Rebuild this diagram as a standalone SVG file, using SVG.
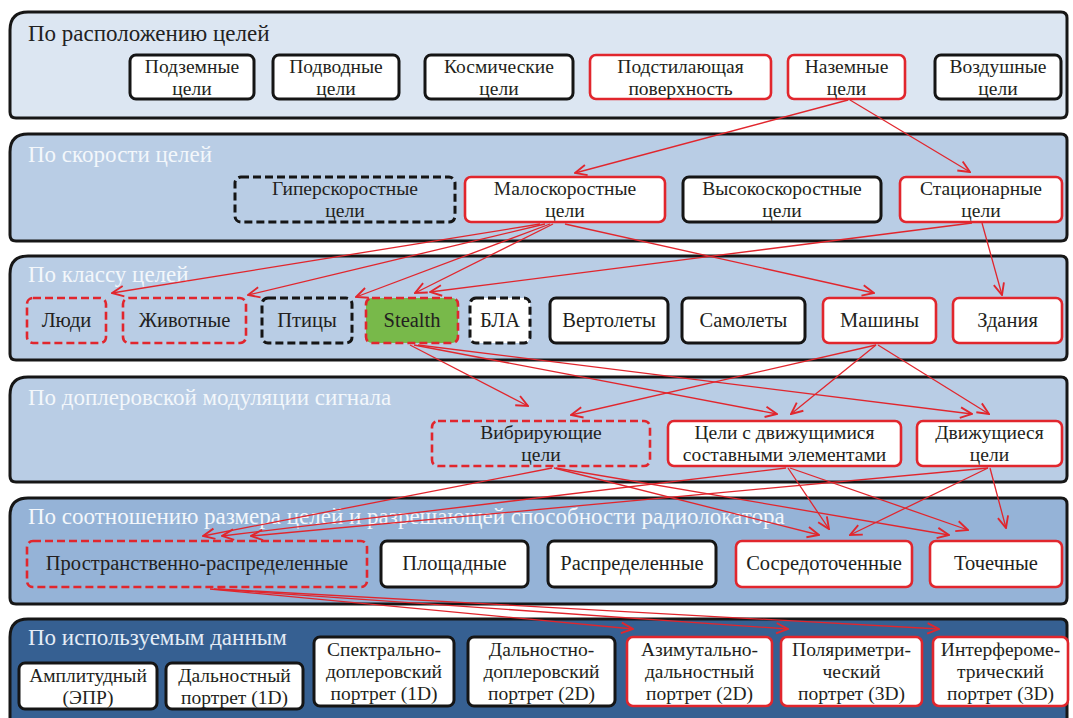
<svg xmlns="http://www.w3.org/2000/svg" width="1073" height="718" viewBox="0 0 1073 718">
<defs>
<style>
.pn{stroke:#161616;stroke-width:3}
.p1{fill:#dce6f2}.p2{fill:#b9cde5}.p5{fill:#95b3d7}.p6{fill:#366092}
.ttl{font-family:"Liberation Serif","Times New Roman",serif;font-size:23px}
.tk{fill:#222}.tw{fill:#f3f7fb}.tw6{fill:#e4ecf6}
.n{fill:#fff;stroke:#151515;stroke-width:3}
.r{stroke:#e1262d;stroke-width:2.6}
.d{stroke-dasharray:8 4}
.o{fill:none}
.g{fill:#78b94a}
.t{font-family:"Liberation Serif","Times New Roman",serif;font-size:20.5px;fill:#231f20;text-anchor:middle}
.m{font-size:19.5px}
.c line{stroke:#e1262d;stroke-width:1.3;marker-end:url(#ah)}
</style>
<marker id="ah" markerUnits="userSpaceOnUse" markerWidth="14" markerHeight="14" viewBox="0 0 12 12" refX="11" refY="6" orient="auto">
<path d="M1,1.5 L11,6 L1,10.5" fill="none" stroke="#e1262d" stroke-width="1.6"/>
</marker>
</defs>

<g id="panel1">
<path class="pn p1" d="M28,12 H1061 Q1067,12 1067,18 V112 Q1067,118 1061,118 H16 Q10,118 10,112 V30 Q10,12 28,12 Z"/>
<text class="ttl tk" x="28" y="41">По расположению целей</text>
</g>
<g id="panel2">
<path class="pn p2" d="M28,134 H1061 Q1067,134 1067,140 V235 Q1067,241 1061,241 H16 Q10,241 10,235 V152 Q10,134 28,134 Z"/>
<text class="ttl tw" x="28" y="162">По скорости целей</text>
</g>
<g id="panel3">
<path class="pn p2" d="M28,256 H1061 Q1067,256 1067,262 V354 Q1067,360 1061,360 H16 Q10,360 10,354 V274 Q10,256 28,256 Z"/>
<text class="ttl tw" x="28" y="282">По классу целей</text>
</g>
<g id="panel4">
<path class="pn p2" d="M28,377 H1061 Q1067,377 1067,383 V476 Q1067,482 1061,482 H16 Q10,482 10,476 V395 Q10,377 28,377 Z"/>
<text class="ttl tw" x="28" y="405">По доплеровской модуляции сигнала</text>
</g>
<g id="panel5">
<path class="pn p5" d="M28,498 H1061 Q1067,498 1067,504 V598 Q1067,604 1061,604 H16 Q10,604 10,598 V516 Q10,498 28,498 Z"/>
<text class="ttl tw" x="28" y="524">По соотношению размера целей и разрешающей способности радиолокатора</text>
</g>
<g id="panel6">
<path class="pn p6" d="M28,619 H1061 Q1067,619 1067,625 V730 H10 V637 Q10,619 28,619 Z"/>
<text class="ttl tw6" x="28" y="645">По используемым данным</text>
</g>

<g id="connectors" class="c">
<line x1="848" y1="100" x2="575" y2="173"/>
<line x1="850" y1="100" x2="970" y2="172"/>
<line x1="540" y1="224" x2="112" y2="293"/>
<line x1="545" y1="224" x2="248" y2="295"/>
<line x1="550" y1="224" x2="356" y2="297"/>
<line x1="553" y1="224" x2="415" y2="293"/>
<line x1="565" y1="224" x2="874" y2="293"/>
<line x1="972" y1="223" x2="430" y2="292"/>
<line x1="982" y1="223" x2="1002" y2="295"/>
<line x1="410" y1="345" x2="528" y2="406"/>
<line x1="414" y1="345" x2="777" y2="414"/>
<line x1="418" y1="345" x2="972" y2="414"/>
<line x1="876" y1="345" x2="571" y2="415"/>
<line x1="876" y1="345" x2="791" y2="414"/>
<line x1="878" y1="345" x2="989" y2="414"/>
<line x1="552" y1="468" x2="203" y2="536"/>
<line x1="786" y1="468" x2="222" y2="536"/>
<line x1="988" y1="468" x2="251" y2="536"/>
<line x1="554" y1="468" x2="819" y2="535"/>
<line x1="788" y1="468" x2="829" y2="529"/>
<line x1="988" y1="468" x2="850" y2="535"/>
<line x1="556" y1="468" x2="949" y2="535"/>
<line x1="790" y1="468" x2="968" y2="530"/>
<line x1="990" y1="468" x2="1006" y2="528"/>
<line x1="210" y1="589" x2="633" y2="629"/>
<line x1="214" y1="589" x2="788" y2="629"/>
<line x1="218" y1="589" x2="939" y2="629"/>
</g>

<!-- row 1 -->
<g id="podzemnye"><rect class="n" x="130" y="55" width="124" height="44" rx="6"/><text class="t m" x="192" y="73">Подземные<tspan x="192" dy="22">цели</tspan></text></g>
<g id="podvodnye"><rect class="n" x="273" y="55" width="126" height="44" rx="6"/><text class="t m" x="336" y="73">Подводные<tspan x="336" dy="22">цели</tspan></text></g>
<g id="kosmicheskie"><rect class="n" x="425" y="55" width="148" height="44" rx="6"/><text class="t m" x="499" y="73">Космические<tspan x="499" dy="22">цели</tspan></text></g>
<g id="podstilayushchaya"><rect class="n r" x="590" y="55" width="181" height="44" rx="6"/><text class="t m" x="680.5" y="73">Подстилающая<tspan x="680.5" dy="22">поверхность</tspan></text></g>
<g id="nazemnye"><rect class="n r" x="788" y="55" width="117" height="44" rx="6"/><text class="t m" x="846.5" y="73">Наземные<tspan x="846.5" dy="22">цели</tspan></text></g>
<g id="vozdushnye"><rect class="n" x="935" y="55" width="126" height="44" rx="6"/><text class="t m" x="998" y="73">Воздушные<tspan x="998" dy="22">цели</tspan></text></g>

<!-- row 2 -->
<g id="giperskorostnye"><rect class="n d o" x="235" y="177" width="220" height="45" rx="6"/><text class="t m" x="345" y="195">Гиперскоростные<tspan x="345" dy="22">цели</tspan></text></g>
<g id="maloskorostnye"><rect class="n r" x="465" y="177" width="200" height="45" rx="6"/><text class="t m" x="565" y="195">Малоскоростные<tspan x="565" dy="22">цели</tspan></text></g>
<g id="vysokoskorostnye"><rect class="n" x="683" y="177" width="198" height="45" rx="6"/><text class="t m" x="782" y="195">Высокоскоростные<tspan x="782" dy="22">цели</tspan></text></g>
<g id="statsionarnye"><rect class="n r" x="900" y="177" width="162" height="45" rx="6"/><text class="t m" x="981" y="195">Стационарные<tspan x="981" dy="22">цели</tspan></text></g>

<!-- row 3 -->
<g id="lyudi"><rect class="n r d o" x="27" y="298" width="79" height="45" rx="6"/><text class="t" x="66.5" y="327">Люди</text></g>
<g id="zhivotnye"><rect class="n r d o" x="123" y="298" width="123" height="45" rx="6"/><text class="t" x="184.5" y="327">Животные</text></g>
<g id="ptitsy"><rect class="n d o" x="262" y="298" width="90" height="45" rx="6"/><text class="t" x="307" y="327">Птицы</text></g>
<g id="stealth"><rect class="n r d g" x="366" y="298" width="92" height="45" rx="6"/><text class="t" x="412" y="327">Stealth</text></g>
<g id="bla"><rect class="n d" x="470" y="298" width="60" height="45" rx="6"/><text class="t" x="500" y="327">БЛА</text></g>
<g id="vertolety"><rect class="n" x="550" y="298" width="118" height="45" rx="6"/><text class="t" x="609" y="327">Вертолеты</text></g>
<g id="samolety"><rect class="n" x="682" y="298" width="123" height="45" rx="6"/><text class="t" x="743.5" y="327">Самолеты</text></g>
<g id="mashiny"><rect class="n r" x="823" y="298" width="113" height="45" rx="6"/><text class="t" x="879.5" y="327">Машины</text></g>
<g id="zdaniya"><rect class="n r" x="953" y="298" width="109" height="45" rx="6"/><text class="t" x="1007.5" y="327">Здания</text></g>

<!-- row 4 -->
<g id="vibriruyushchie"><rect class="n r d o" x="432" y="421" width="218" height="45" rx="6"/><text class="t m" x="541" y="439">Вибрирующие<tspan x="541" dy="22">цели</tspan></text></g>
<g id="tseli-s-dvizh"><rect class="n r" x="668" y="421" width="233" height="45" rx="6"/><text class="t m" x="784.5" y="439">Цели с движущимися<tspan x="784.5" dy="22">составными элементами</tspan></text></g>
<g id="dvizhushchiesya"><rect class="n r" x="917" y="421" width="145" height="45" rx="6"/><text class="t m" x="989.5" y="439">Движущиеся<tspan x="989.5" dy="22">цели</tspan></text></g>

<!-- row 5 -->
<g id="prostranstvenno"><rect class="n r d o" x="27" y="541" width="340" height="46" rx="6"/><text class="t" x="197" y="570">Пространственно-распределенные</text></g>
<g id="ploshchadnye"><rect class="n" x="381" y="541" width="147" height="46" rx="6"/><text class="t" x="454.5" y="570">Площадные</text></g>
<g id="raspredelennye"><rect class="n" x="548" y="541" width="168" height="46" rx="6"/><text class="t" x="632" y="570">Распределенные</text></g>
<g id="sosredotochennye"><rect class="n r" x="736" y="541" width="176" height="46" rx="6"/><text class="t" x="824" y="570">Сосредоточенные</text></g>
<g id="tochechnye"><rect class="n r" x="930" y="541" width="132" height="46" rx="6"/><text class="t" x="996" y="570">Точечные</text></g>

<!-- row 6 -->
<g id="amplitudnyi"><rect class="n" x="19" y="663" width="138" height="46" rx="6"/><text class="t m" x="88" y="681.5">Амплитудный<tspan x="88" dy="22">(ЭПР)</tspan></text></g>
<g id="dalnostnyi"><rect class="n" x="166" y="663" width="137" height="46" rx="6"/><text class="t m" x="234.5" y="681.5">Дальностный<tspan x="234.5" dy="22">портрет (1D)</tspan></text></g>
<g id="spektralno"><rect class="n" x="314" y="637" width="140" height="69" rx="6"/><text class="t m" x="384" y="656">Спектрально-<tspan x="384" dy="22">доплеровский</tspan><tspan x="384" dy="22">портрет (1D)</tspan></text></g>
<g id="dalnostno"><rect class="n" x="468" y="637" width="147" height="69" rx="6"/><text class="t m" x="541.5" y="656">Дальностно-<tspan x="541.5" dy="22">доплеровский</tspan><tspan x="541.5" dy="22">портрет (2D)</tspan></text></g>
<g id="azimutalno"><rect class="n r" x="627" y="637" width="145" height="69" rx="6"/><text class="t m" x="699.5" y="656">Азимутально-<tspan x="699.5" dy="22">дальностный</tspan><tspan x="699.5" dy="22">портрет (2D)</tspan></text></g>
<g id="polyarimetr"><rect class="n r" x="781" y="637" width="141" height="69" rx="6"/><text class="t m" x="851.5" y="656">Поляриметри-<tspan x="851.5" dy="22">ческий</tspan><tspan x="851.5" dy="22">портрет (3D)</tspan></text></g>
<g id="interferometr"><rect class="n r" x="933" y="637" width="135" height="69" rx="6"/><text class="t m" x="1000.5" y="656">Интерфероме-<tspan x="1000.5" dy="22">трический</tspan><tspan x="1000.5" dy="22">портрет (3D)</tspan></text></g>
</svg>
